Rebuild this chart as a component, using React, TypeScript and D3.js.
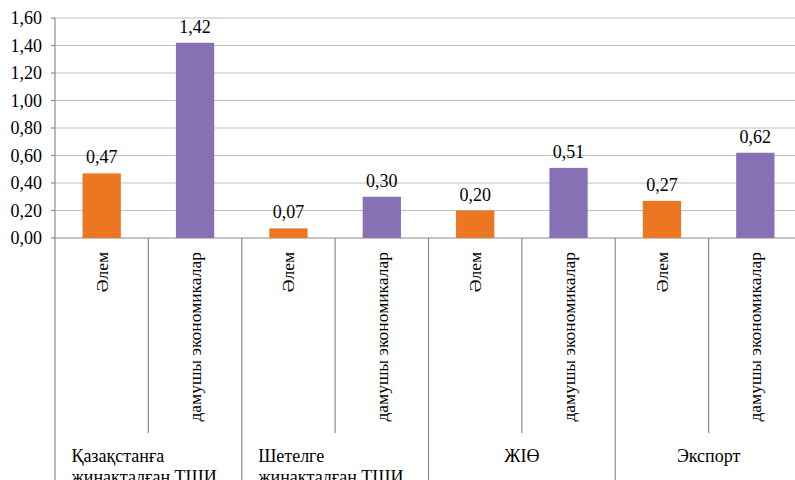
import React from "react";
import * as d3 from "d3";

const categories = ["Әлем", "дамушы экономикалар", "Әлем", "дамушы экономикалар", "Әлем", "дамушы экономикалар", "Әлем", "дамушы экономикалар"];
const values = [0.47, 1.42, 0.07, 0.30, 0.20, 0.51, 0.27, 0.62];
const seriesIndex = [0, 1, 0, 1, 0, 1, 0, 1];
const groupLabels = [["Қазақстанға", "жинақталған ТШИ"], ["Шетелге", "жинақталған ТШИ"], ["ЖІӨ"], ["Экспорт"]];
const yTicks = [0, 0.2, 0.4, 0.6, 0.8, 1.0, 1.2, 1.4, 1.6];
const colors = ["#EB7723", "#8571B3"];

const W = 795, H = 480;
const left = 55, right = 802, top = 18, bottom = 238;
const fmt = (v: number) => v.toFixed(2).replace(".", ",");
const ts = { fontFamily: "Liberation Serif" };

export default function App() {
  const x = d3.scaleBand<number>().domain(d3.range(categories.length)).range([left, right]).padding(0);
  const y = d3.scaleLinear().domain([0, 1.6]).range([bottom, top]);
  const bw = x.bandwidth();
  const barW = bw * 0.41;
  const groupW = bw * 2;
  return (
    <svg width={W} height={H} style={{ position: "absolute", left: 0, top: 0, background: "#fff" }}>
      {yTicks.map((t) => (
        <g key={t}>
          <line x1={left} x2={right} y1={y(t)} y2={y(t)} stroke={t === 0 ? "#8c8c8c" : "#c0c0c0"} strokeWidth={1.2} />
          <line x1={left - 4} x2={left} y1={y(t)} y2={y(t)} stroke="#8c8c8c" strokeWidth={1.2} />
          <text style={ts} x={42} y={y(t)} dy="0.35em" textAnchor="end" fontSize={18} fill="#000">{fmt(t)}</text>
        </g>
      ))}
      <line x1={left} x2={left} y1={top} y2={H} stroke="#8c8c8c" strokeWidth={1.2} />
      {categories.map((c, i) => {
        const x0 = x(i)!;
        const isGroupEnd = i % 2 === 1;
        return (
          <g key={i}>
            <line x1={x0 + bw} x2={x0 + bw} y1={bottom} y2={isGroupEnd ? H : 433} stroke="#8c8c8c" strokeWidth={1.2} />
            <rect x={x0 + (bw - barW) / 2} y={y(values[i])} width={barW} height={bottom - y(values[i])} fill={colors[seriesIndex[i]]} />
            <text style={ts} x={x0 + bw / 2} y={y(values[i]) - 10} textAnchor="middle" fontSize={18} fill="#000">{fmt(values[i])}</text>
            <text style={ts} transform={`translate(${x0 + bw / 2},252) rotate(-90)`} textAnchor="end" dominantBaseline="central" fontSize={17.5} fill="#000">{c}</text>
          </g>
        );
      })}
      {groupLabels.map((lines, g) => {
        const cx = left + g * groupW + groupW / 2;
        const multi = lines.length > 1;
        return (
          <text style={ts} key={g} x={multi ? cx - 77 : cx} y={462} textAnchor={multi ? "start" : "middle"} fontSize={18} fill="#000">
            {lines.map((l, k) => (
              <tspan key={k} x={multi ? cx - 77 : cx} dy={k === 0 ? 0 : 21}>{l}</tspan>
            ))}
          </text>
        );
      })}
    </svg>
  );
}
